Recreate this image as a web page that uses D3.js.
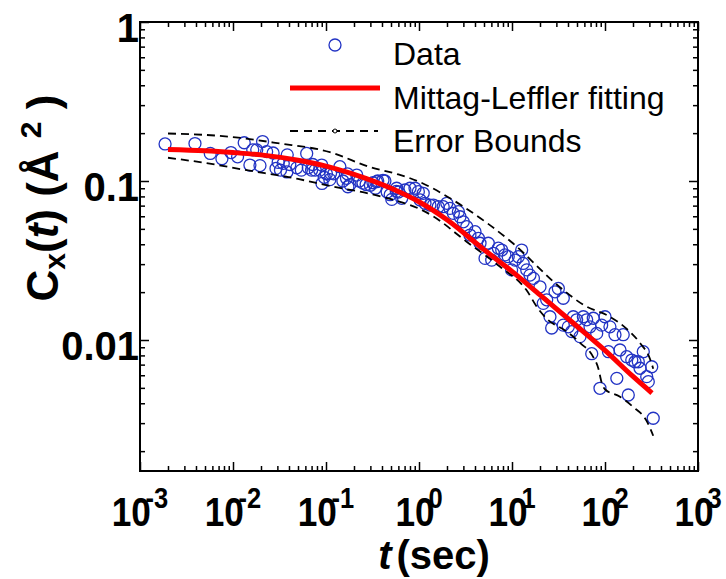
<!DOCTYPE html>
<html>
<head>
<meta charset="utf-8">
<script src="https://cdn.jsdelivr.net/npm/d3@7"></script>
<style>
  body { margin: 0; background: #fff; }
  svg { display: block; font-family: "Liberation Sans", Arial, sans-serif; }
</style>
</head>
<body>
<svg id="chart" width="726" height="579"></svg>
<script>
// Data

// measured points: time (sec) and C_x(t) (Å^2)
const dataT = [0.00186, 0.0039, 0.0057, 0.0076, 0.0095, 0.0112, 0.0132, 0.0152, 0.0163, 0.018,
  0.0195, 0.0208, 0.023, 0.027, 0.029, 0.0306, 0.0324, 0.0347, 0.038, 0.0383,
  0.0408, 0.0485, 0.0543, 0.062, 0.0645, 0.070, 0.072, 0.0765, 0.0856, 0.090,
  0.0905, 0.0957, 0.101, 0.110, 0.112, 0.121, 0.141, 0.152, 0.166, 0.170,
  0.172, 0.181, 0.214, 0.228, 0.25, 0.27, 0.30, 0.32, 0.34, 0.35,
  0.36, 0.41, 0.43, 0.455, 0.49, 0.51, 0.57, 0.575, 0.60,
  0.652, 0.706, 0.80, 0.906, 0.984, 1.11, 1.03, 1.16, 1.31, 1.43,
  1.61, 1.82, 1.99, 2.15, 2.34, 2.65, 2.76, 2.99, 3.26, 3.53,
  4.0, 4.35, 4.53, 5.13, 5.56, 6.05, 6.3, 7.13, 7.75, 8.4,
  9.1, 9.9, 10.8, 11.7, 12.7, 13.2, 14.4, 15.6, 17.0, 20.0,
  21.7, 23.6, 25.6, 26.7, 29.0, 31.5, 35.6, 35.6, 40.3, 43.9,
  45.6, 49.6, 53.8, 58.5, 63.5, 69.0, 72, 74.8, 81.4, 88.3,
  92, 100, 109, 113, 128, 134, 145, 157, 171, 178,
  194, 210, 228, 238, 258, 281, 292, 318, 330];
const dataC = [0.171, 0.172, 0.149, 0.138, 0.151, 0.142, 0.174, 0.126, 0.157, 0.157,
  0.125, 0.177, 0.153, 0.150, 0.120, 0.131, 0.117, 0.129, 0.114, 0.146,
  0.127, 0.121, 0.117, 0.149, 0.121, 0.117, 0.127, 0.117, 0.117, 0.126,
  0.0965, 0.1055, 0.111, 0.102, 0.112, 0.111, 0.123, 0.100, 0.104, 0.111,
  0.092, 0.095, 0.109, 0.100, 0.097, 0.095, 0.094, 0.0975, 0.090, 0.099,
  0.100, 0.101, 0.100, 0.0853, 0.082, 0.0766, 0.086, 0.090, 0.0853,
  0.0778, 0.0878, 0.090, 0.090, 0.0857, 0.0837, 0.076, 0.0724, 0.0706, 0.0706,
  0.0689, 0.0689, 0.0724, 0.0673, 0.0626, 0.0641, 0.0596, 0.0554, 0.0516, 0.0457,
  0.048, 0.0436, 0.0406, 0.0326, 0.0406, 0.0318, 0.0351, 0.0378, 0.0368, 0.0343,
  0.0334, 0.0276, 0.0318, 0.0334, 0.0368, 0.0303, 0.0276, 0.0256, 0.0244, 0.0216,
  0.017, 0.0179, 0.014, 0.0119, 0.0201, 0.0211, 0.0183, 0.0124, 0.0121, 0.0113,
  0.014, 0.0134, 0.0105, 0.014, 0.0134, 0.0121, 0.0082, 0.0137, 0.0110, 0.00497,
  0.0124, 0.014, 0.00844, 0.0121, 0.0108, 0.00574, 0.00865, 0.0108, 0.00785, 0.00451,
  0.00748, 0.0073, 0.0073, 0.00664, 0.00844, 0.00588, 0.00547, 0.00679, 0.00322];

// Mittag-Leffler fit
const fitT = [0.002, 0.005, 0.01, 0.02, 0.05, 0.1, 0.2, 0.5, 1, 2, 5, 10, 20, 50, 100, 200, 320];
const fitC = [0.158, 0.155, 0.151, 0.146, 0.135, 0.124, 0.110, 0.090, 0.074, 0.057, 0.037, 0.027, 0.0192, 0.0122, 0.0086, 0.0059, 0.00464];

// error bounds
const upperT = [0.002, 0.01, 0.03, 0.11, 0.3, 0.6, 1, 2, 3, 10, 33, 60, 113, 170, 240, 305, 330];
const upperC = [0.199, 0.189, 0.173, 0.152, 0.122, 0.110, 0.099, 0.080, 0.069, 0.041, 0.0214, 0.0165, 0.0140, 0.0118, 0.0095, 0.0076, 0.0066];
const lowerT = [0.002, 0.005, 0.014, 0.05, 0.11, 0.3, 0.625, 1, 1.42, 3.25, 7.4, 14.3, 19, 24, 38, 55, 73, 85, 92, 100, 145, 200, 280, 330];
const lowerC = [0.140, 0.130, 0.117, 0.103, 0.093, 0.083, 0.074, 0.067, 0.060, 0.0415, 0.029, 0.0206, 0.0158, 0.0135, 0.0114, 0.0095, 0.0080, 0.0066, 0.0054, 0.0049, 0.0044, 0.0038, 0.0031, 0.0025];

// axis ticks
const xMajor = [1e-3, 1e-2, 1e-1, 1e0, 1e1, 1e2, 1e3];
const xExponents = ["-3", "-2", "-1", "0", "1", "2", "3"];
const yMajor = [1, 0.1, 0.01];
const yLabels = ["1", "0.1", "0.01"];

const legendNames = ["Data", "Mittag-Leffler fitting", "Error Bounds"];

const svg = d3.select("#chart");
const pLeft = 140, pRight = 698, pTop = 22, pBottom = 471;

const x = d3.scaleLog().domain([1e-3, 1e3]).range([pLeft, pRight]);
const y = d3.scaleLog().domain([0.0015, 1]).range([pBottom, pTop]);

// minor ticks 2..9 of each decade
let xMinor = [];
for (let e = -3; e < 3; e++) for (let k = 2; k <= 9; k++) xMinor.push(k * Math.pow(10, e));
let yMinor = [];
for (let e = -3; e < 0; e++) for (let k = 2; k <= 9; k++) {
    let v = k * Math.pow(10, e);
    if (v >= 0.0015) yMinor.push(v);
}

// Axes, all ticks pointing inward
const drawAxis = (axisFn, scale, minor, major, tr) => {
    [[minor, -5], [major, -9]].forEach(([vals, size]) => {
        svg.append("g").attr("transform", tr)
            .call(axisFn(scale).tickValues(vals).tickSize(size).tickSizeOuter(0).tickFormat(""))
            .call(g => g.select(".domain").remove());
    });
};
drawAxis(d3.axisBottom, x, xMinor, xMajor, `translate(0,${pBottom})`);
drawAxis(d3.axisTop, x, xMinor, xMajor, `translate(0,${pTop})`);
drawAxis(d3.axisLeft, y, yMinor, yMajor, `translate(${pLeft},0)`);
drawAxis(d3.axisRight, y, yMinor, yMajor, `translate(${pRight},0)`);
svg.selectAll(".tick line").attr("stroke", "#000").attr("stroke-width", 1.5);

svg.append("rect")
    .attr("x", pLeft).attr("y", pTop)
    .attr("width", pRight - pLeft).attr("height", pBottom - pTop)
    .attr("fill", "none").attr("stroke", "#000").attr("stroke-width", 2);

// x tick labels 10^n (narrow glyphs, exponent tucked against the 0)
xMajor.forEach((v, i) => {
    let t = svg.append("text")
        .attr("transform", `translate(${x(v)},526) scale(0.88,1)`)
        .attr("text-anchor", "middle")
        .attr("font-size", 40).attr("font-weight", "bold");
    t.append("tspan").text("10");
    let exp = xExponents[i];
    if (exp[0] === "-") {
        t.append("tspan").attr("font-size", 29).attr("dx", -6).attr("dy", -18).text("-");
        t.append("tspan").attr("font-size", 29).text(exp.slice(1));
    } else {
        t.append("tspan").attr("font-size", 29).attr("dx", -7).attr("dy", -18).text(exp);
    }
});

// y tick labels
yMajor.forEach((v, i) => {
    svg.append("text")
        .attr("x", 139).attr("y", y(v) + 20)
        .attr("text-anchor", "end")
        .attr("font-size", 40).attr("font-weight", "bold")
        .text(yLabels[i]);
});

// axis titles
let xt = svg.append("text")
    .attr("x", 434).attr("y", 569)
    .attr("text-anchor", "middle")
    .attr("font-size", 40).attr("font-weight", "bold");
xt.append("tspan").attr("font-style", "italic").text("t");
xt.append("tspan").attr("dx", 5).text("(sec)");

let yt = svg.append("text")
    .attr("transform", "translate(58,198) rotate(-90)")
    .attr("text-anchor", "middle")
    .attr("font-size", 44).attr("font-weight", "bold");
yt.append("tspan").text("C");
yt.append("tspan").attr("font-size", 30).attr("dy", 7).text("x");
yt.append("tspan").attr("dy", -7).text("(");
yt.append("tspan").attr("font-style", "italic").text("t");
yt.append("tspan").text(") (Å ");
yt.append("tspan").attr("font-size", 30).attr("dy", -17).text("2");
yt.append("tspan").attr("dy", 17).text(" )");

// data circles
const points = dataT.map((t, i) => ({ t: t, c: dataC[i] }));
svg.append("g").selectAll("circle")
    .data(points)
    .enter()
    .append("circle")
    .attr("cx", d => x(d.t))
    .attr("cy", d => y(d.c))
    .attr("r", 6)
    .attr("fill", "none")
    .attr("stroke", "#2233c4")
    .attr("stroke-width", 1.3);

const line = d3.line()
    .x(d => x(d[0]))
    .y(d => y(d[1]))
    .curve(d3.curveMonotoneX);

// error bounds
[[upperT, upperC], [lowerT, lowerC]].forEach(([ts, cs]) => {
    svg.append("path")
        .attr("d", line(ts.map((t, i) => [t, cs[i]])))
        .attr("fill", "none")
        .attr("stroke", "#000")
        .attr("stroke-width", 1.8)
        .attr("stroke-dasharray", "8,5");
});

// fit
svg.append("path")
    .attr("d", line(fitT.map((t, i) => [t, fitC[i]])))
    .attr("fill", "none")
    .attr("stroke", "#ff0000")
    .attr("stroke-width", 5);

// legend
const lg = svg.append("g");
lg.append("circle").attr("cx", 335).attr("cy", 45).attr("r", 6)
    .attr("fill", "none").attr("stroke", "#2233c4").attr("stroke-width", 1.3);
lg.append("line").attr("x1", 290).attr("x2", 380).attr("y1", 88).attr("y2", 88)
    .attr("stroke", "#ff0000").attr("stroke-width", 5);
lg.append("line").attr("x1", 290).attr("x2", 378).attr("y1", 131).attr("y2", 131)
    .attr("stroke", "#000").attr("stroke-width", 1.8).attr("stroke-dasharray", "8,6");
lg.append("circle").attr("cx", 335).attr("cy", 131).attr("r", 2)
    .attr("fill", "#fff").attr("stroke", "#000").attr("stroke-width", 1);
legendNames.forEach((name, i) => {
    lg.append("text")
        .attr("x", 393).attr("y", 65 + i * 43.5)
        .attr("font-size", 32)
        .text(name);
});
</script>
</body>
</html>
